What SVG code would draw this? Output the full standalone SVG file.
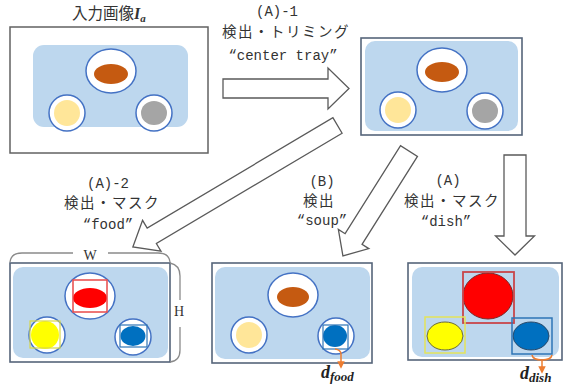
<svg xmlns="http://www.w3.org/2000/svg" width="565" height="385" viewBox="0 0 565 385">
<style>
.frame{fill:#fff;stroke:#626262;stroke-width:1.5}
.frame2{fill:#fff;stroke:#56657a;stroke-width:1.6}
.tray{fill:#bdd7ee;stroke:none}
.plate{fill:#fff;stroke:#4472c4;stroke-width:1.5}
.arrow{fill:#fff;stroke:#5a5a5a;stroke-width:1.3;stroke-linejoin:miter}
.lbl{font-family:"Liberation Mono","Noto Sans CJK JP",monospace;font-size:14px;fill:#333;text-anchor:middle}
.jp{font-family:"Noto Sans CJK JP",sans-serif;font-size:14.5px;letter-spacing:1.5px;fill:#333;text-anchor:middle}
.dim{fill:none;stroke:#8a8a8a;stroke-width:1.3}
.dimt{font-family:"Liberation Serif","Noto Sans CJK JP",serif;font-size:14px;fill:#333;text-anchor:middle}
.orange{fill:none;stroke:#ed7d31;stroke-width:1.5}
.dvar{font-family:"Liberation Serif",serif;font-weight:bold;font-style:italic;fill:#222}
</style>
<defs>
<marker id="oa" viewBox="0 0 6 6" refX="3" refY="3" markerWidth="5" markerHeight="5" orient="auto">
<path d="M0,0 L6,3 L0,6 Z" fill="#ed7d31"/>
</marker>
</defs>

<text x="72" y="19" font-family="Noto Sans CJK JP,sans-serif" font-size="15.5" fill="#333">入力画像<tspan font-family="Liberation Serif,serif" font-style="italic" font-weight="bold" font-size="16">I</tspan><tspan font-family="Liberation Serif,serif" font-style="italic" font-weight="bold" font-size="11" dy="3">a</tspan></text>

<g id="panel-input">
<rect class="frame" x="10" y="27" width="198" height="126"/>
<rect class="tray" x="33" y="45" width="155" height="82" rx="11"/>
<ellipse class="plate" cx="111" cy="71" rx="25" ry="22"/>
<ellipse cx="111" cy="74" rx="17" ry="10" fill="#c55a11"/>
<circle class="plate" cx="67" cy="113" r="18"/>
<circle cx="67" cy="113" r="13" fill="#ffe699"/>
<circle class="plate" cx="154" cy="113" r="18"/>
<ellipse cx="154" cy="113" rx="13" ry="12" fill="#a5a5a5"/>
</g>

<g id="panel-trimmed">
<rect class="frame2" x="361" y="38" width="161" height="97"/>
<rect class="tray" x="365" y="41" width="153" height="90" rx="10"/>
<ellipse class="plate" cx="442" cy="70" rx="25" ry="22"/>
<ellipse cx="442" cy="72" rx="17" ry="10" fill="#c55a11"/>
<circle class="plate" cx="398" cy="110" r="18"/>
<circle cx="398" cy="110" r="13" fill="#ffe699"/>
<circle class="plate" cx="485" cy="111" r="18"/>
<ellipse cx="485" cy="111" rx="13" ry="12" fill="#a5a5a5"/>
</g>

<g id="panel-food">
<rect class="frame2" x="10" y="263" width="160" height="99"/>
<rect class="tray" x="13" y="267" width="155" height="91" rx="10"/>
<ellipse class="plate" cx="90" cy="296" rx="25" ry="23"/>
<ellipse cx="90" cy="298" rx="17" ry="10" fill="#ff0000"/>
<rect x="73" y="280" width="34" height="32" fill="none" stroke="#e84a4a" stroke-width="1.5"/>
<circle class="plate" cx="47" cy="335" r="18"/>
<circle cx="45" cy="335" r="14" fill="#ffff00"/>
<rect x="30" y="321" width="30" height="27" fill="none" stroke="#d8d84a" stroke-width="1.2"/>
<circle class="plate" cx="133" cy="337" r="18"/>
<ellipse cx="133" cy="336" rx="12.5" ry="10" fill="#0070c0"/>
<rect x="120" y="325" width="27" height="22" fill="none" stroke="#2e75b6" stroke-width="1.2"/>
<path class="dim" d="M10,262 Q11,253 22,253 L73,253 M108,253 L158,253 Q169,253 170,262"/>
<text class="dimt" x="90" y="260">W</text>
<path class="dim" d="M170,263 Q180,265 180,276 L180,300 M180,327 L180,350 Q180,361 170,362"/>
<text class="dimt" x="179" y="316">H</text>
</g>

<g id="panel-soup">
<rect class="frame2" x="212" y="263" width="160" height="100"/>
<rect class="tray" x="215" y="267" width="155" height="92" rx="10"/>
<ellipse class="plate" cx="293" cy="295" rx="25" ry="22"/>
<ellipse cx="293" cy="297" rx="16" ry="10" fill="#c55a11"/>
<circle class="plate" cx="249" cy="335" r="18"/>
<circle cx="249" cy="335" r="13" fill="#ffe699"/>
<circle class="plate" cx="336" cy="336" r="18"/>
<ellipse cx="335" cy="336" rx="12" ry="11" fill="#0070c0"/>
<rect x="323" y="325" width="25" height="24" fill="none" stroke="#2e75b6" stroke-width="1.2"/>
<path class="orange" d="M335,349 Q341,350 341,354 L341,365" marker-end="url(#oa)"/>
<text class="dvar" x="321" y="378" font-size="18">d<tspan font-size="13" dy="3">food</tspan></text>
</g>

<g id="panel-dish">
<rect class="frame2" x="408" y="263" width="154" height="97"/>
<rect class="tray" x="412" y="267" width="147" height="90" rx="10"/>
<ellipse cx="488" cy="296" rx="25" ry="23" fill="#ff0000" stroke="#7a2a2a" stroke-width="1"/>
<rect x="463" y="272" width="51" height="51" fill="none" stroke="#c8464a" stroke-width="1.8"/>
<ellipse cx="445" cy="336" rx="18" ry="14" fill="#ffff00" stroke="#6b6b3a" stroke-width="1"/>
<rect x="425" y="317" width="40" height="36" fill="none" stroke="#e4e45a" stroke-width="1.5"/>
<ellipse cx="531" cy="336" rx="18" ry="14" fill="#0070c0" stroke="#2a4a6a" stroke-width="1"/>
<rect x="512" y="318" width="40" height="36" fill="none" stroke="#2e75b6" stroke-width="1.5"/>
<path class="orange" d="M532,355 Q533,360 542,360 Q551,360 552,355 M542,360 L542,370" marker-end="url(#oa)"/>
<text class="dvar" x="520" y="379" font-size="18">d<tspan font-size="13" dy="3">dish</tspan></text>
</g>

<g id="connectors">
<polygon class="arrow" points="223,79 328,79 328,68 349,88.5 328,109 328,98 223,98"/>
<polygon class="arrow" transform="translate(337.5,125.5) rotate(149.3)" points="0,-9 216,-9 216,-18 238,0 216,18 216,9 0,9"/>
<polygon class="arrow" transform="translate(409,151) rotate(122.2)" points="0,-10 104,-10 104,-18 124,0 104,18 104,10 0,10"/>
<polygon class="arrow" points="504,155 526,155 526,236 534.5,236 515,255 495.5,236 504,236"/>
</g>

<g id="label-a1">
<text class="lbl" x="277" y="16">(A)-1</text>
<text class="jp" x="286" y="37">検出・トリミング</text>
<text class="lbl" x="283" y="60">“center tray”</text>
</g>
<g id="label-a2">
<text class="lbl" x="108" y="188">(A)-2</text>
<text class="jp" x="112" y="208">検出・マスク</text>
<text class="lbl" x="108" y="229">“food”</text>
</g>
<g id="label-b">
<text class="lbl" x="322" y="186">(B)</text>
<text class="jp" x="319" y="206">検出</text>
<text class="lbl" x="322" y="225">“soup”</text>
</g>
<g id="label-a">
<text class="lbl" x="448" y="185">(A)</text>
<text class="jp" x="452" y="206">検出・マスク</text>
<text class="lbl" x="446" y="226">“dish”</text>
</g>
</svg>
